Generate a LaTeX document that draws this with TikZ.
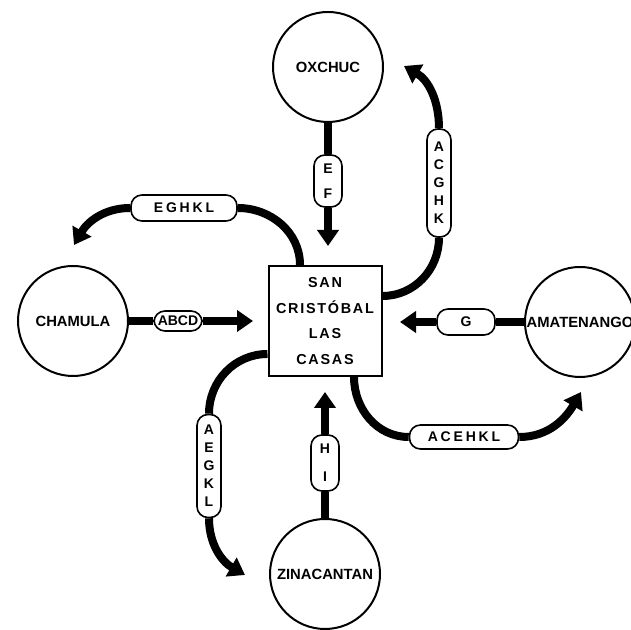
\documentclass[tikz,border=0pt]{standalone}
\usepackage{fontspec}
\setmainfont{Liberation Sans}
\newfontfamily\spacedfont[LetterSpace=20]{Liberation Sans}
\newfontfamily\cityfont[LetterSpace=12]{Liberation Sans}
\usetikzlibrary{arrows.meta}
\tikzset{
  town/.style={circle, draw, line width=1pt, minimum size=55pt, inner sep=0pt, font=\bfseries\fontsize{7.4}{9}\selectfont},
  city/.style={rectangle, draw, line width=1pt, minimum width=56.5pt, minimum height=55pt, align=center, font=\cityfont\bfseries\fontsize{7.2}{12.8}\selectfont},
  goods/.style={rectangle, draw, fill=white, line width=0.8pt, rounded corners=5.5pt, inner sep=0pt, align=center, font=\spacedfont\bfseries\fontsize{7}{9}\selectfont},
  bar/.style={line width=4pt},
  flow/.style={line width=4pt, -{Triangle[length=8pt,width=10.5pt]}},
}
\begin{document}
\begin{tikzpicture}[x=0.5pt, y=0.5pt]
            \useasboundingbox (0,0) rectangle (631,630);
            \clip (0,0) rectangle (631,630);
            % market and the towns round it
            \node[city] (sancristobal) at (325,309) {SAN\\CRISTÓBAL\\LAS\\CASAS};
            \node[town] (oxchuc) at (328,563) {OXCHUC};
            \node[town] (chamula) at (73,309) {CHAMULA};
            \node[town] (amatenango) at (580,308) {AMATENANGO};
            \node[town] (zinacantan) at (325,56) {ZINACANTAN};
            % goods on each route
            \node[goods, minimum width=14pt, minimum height=26pt] (ef) at (328,449) {E\\[3.5pt]F};
            \node[goods, minimum width=14pt, minimum height=28pt] (hi) at (325,167) {H\\[5pt]I};
            \node[goods, minimum width=24pt, minimum height=10pt, font=\bfseries\fontsize{7}{9}\selectfont] (abcd) at (178,309) {ABCD};
            \node[goods, minimum width=29pt, minimum height=13pt] (g) at (466,308) {G};
            \node[goods, minimum width=53pt, minimum height=13pt] (eghkl) at (184,422) {EGHKL};
            \node[goods, minimum width=12pt, minimum height=54pt] (acghk) at (439,447) {A\\C\\G\\H\\K};
            \node[goods, minimum width=54.5pt, minimum height=12pt] (acehkl) at (464,193) {ACEHKL};
            \node[goods, minimum width=12pt, minimum height=51.5pt] (aegkl) at (209,164) {A\\E\\G\\K\\L};
            % ends of the arrows
            \coordinate (eftip) at (328,384);
            \coordinate (hitip) at (325,238);
            \coordinate (abcdtip) at (253,309);
            \coordinate (gtip) at (400,308);
            \coordinate (eghkltip) at (74,385);
            \coordinate (acghktip) at (404,564);
            \coordinate (acehkltip) at (581,238);
            \coordinate (aegkltip) at (245,55);
            \coordinate (eghklfrom) at ([xshift=-12.5pt]sancristobal.north);
            \coordinate (acghkfrom) at ([yshift=12.5pt]sancristobal.east);
            \coordinate (acehklfrom) at ([xshift=14.5pt]sancristobal.south);
            \coordinate (aegklfrom) at ([yshift=-16.5pt]sancristobal.west);
            % straight routes in
            \draw[bar] (oxchuc) -- (ef);
            \draw[flow] (ef) -- (eftip);
            \draw[bar] (zinacantan) -- (hi);
            \draw[flow] (hi) -- (hitip);
            \draw[bar] (chamula) -- (abcd);
            \draw[flow] (abcd) -- (abcdtip);
            \draw[bar] (amatenango) -- (g);
            \draw[flow] (g) -- (gtip);
            % curved routes out
            \draw[bar] (eghklfrom) to[out=90,in=0] (eghkl.east);
            \draw[flow] (eghkl.west) to[out=180,in=60] (eghkltip);
            \draw[bar] (acghkfrom) to[out=0,in=-90] (acghk.south);
            \draw[flow] (acghk.north) to[out=90,in=-30] (acghktip);
            \draw[bar] (acehklfrom) to[out=-90,in=180] (acehkl.west);
            \draw[flow] (acehkl.east) to[out=0,in=-120] (acehkltip);
            \draw[bar] (aegklfrom) to[out=180,in=90] (aegkl.north);
            \draw[flow] (aegkl.south) to[out=-90,in=150] (aegkltip);
\end{tikzpicture}
\end{document}
